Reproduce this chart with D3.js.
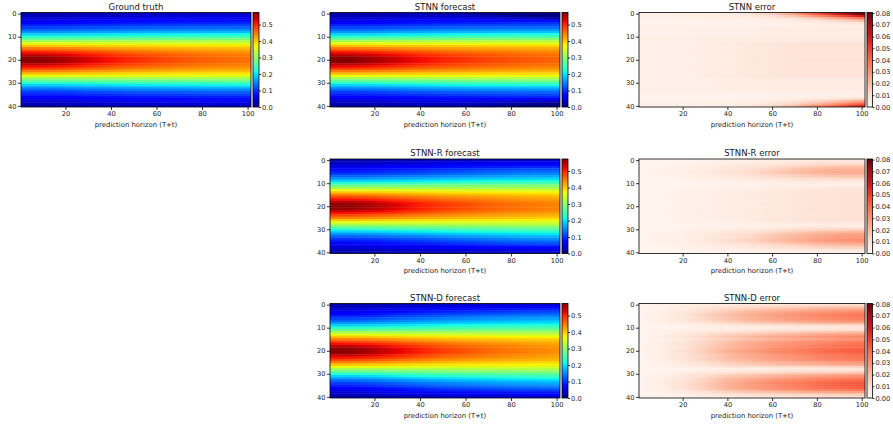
<!DOCTYPE html>
<html>
<head>
<meta charset="utf-8">
<script src="https://cdn.jsdelivr.net/npm/d3@7"></script>
<style>
  body { margin: 0; background: #fff; }
  svg { display: block; }
  text { font-family: "DejaVu Sans", sans-serif; fill: #1a1a1a; }
</style>
</head>
<body>
<svg id="fig" width="893" height="426"></svg>
<script>
// Sampled prediction horizons (columns) and tick labels
const horizons = [1, 10, 20, 30, 40, 50, 60, 70, 80, 90, 100];
const xTicks = [20, 40, 60, 80, 100];
const yTicks = [0, 10, 20, 30, 40];
const fieldTicks = [0, 0.1, 0.2, 0.3, 0.4, 0.5];
const errorTicks = [0, 0.01, 0.02, 0.03, 0.04, 0.05, 0.06, 0.07, 0.08];
const fieldMax = 0.573;
const errorMax = 0.0805;

// Values in thousandths; one row per spatial index 0..40, one entry per sampled horizon
const truth = [
  [20,20,22,25,27,29,30,31,32,33,34],
  [28,28,30,33,36,38,40,41,42,43,44],
  [40,40,43,47,50,53,55,56,57,58,58],
  [53,53,56,61,64,68,70,72,74,75,76],
  [69,69,72,77,80,84,86,88,90,91,92],
  [86,86,89,94,97,101,103,105,107,108,109],
  [103,103,106,111,114,118,120,122,124,125,126],
  [126,126,129,134,137,141,143,145,147,148,149],
  [154,154,157,162,165,169,171,173,175,176,177],
  [189,189,192,197,200,204,206,208,210,211,212],
  [229,229,232,235,237,240,242,243,244,245,246],
  [269,269,272,275,277,280,282,283,284,285,286],
  [315,315,316,317,318,318,319,319,320,320,320],
  [360,360,359,358,357,357,356,356,356,355,355],
  [406,405,402,398,394,391,389,387,385,384,383],
  [446,445,440,433,426,420,416,413,410,408,406],
  [480,479,471,461,452,444,438,433,429,426,423],
  [515,513,503,489,475,464,456,449,443,439,435],
  [543,541,528,511,495,481,471,463,456,451,446],
  [566,564,549,528,509,493,482,471,463,458,452],
  [570,568,552,531,511,495,483,472,464,458,452],
  [566,564,549,528,509,493,482,471,463,458,452],
  [543,541,528,511,495,481,471,463,456,451,446],
  [515,513,503,489,475,464,456,449,443,439,435],
  [480,479,471,461,452,444,438,433,429,426,423],
  [446,445,440,433,426,420,416,413,410,408,406],
  [406,405,402,398,394,391,389,387,385,384,383],
  [360,360,359,358,357,357,356,356,356,355,355],
  [315,315,316,317,318,318,319,319,320,320,320],
  [269,269,272,275,277,280,282,283,284,285,286],
  [229,229,232,235,237,240,242,243,244,245,246],
  [189,189,192,197,200,204,206,208,210,211,212],
  [154,154,157,162,165,169,171,173,175,176,177],
  [126,126,129,134,137,141,143,145,147,148,149],
  [103,103,106,111,114,118,120,122,124,125,126],
  [86,86,89,94,97,101,103,105,107,108,109],
  [69,69,72,77,80,84,86,88,90,91,92],
  [53,53,56,61,64,68,70,72,74,75,76],
  [40,40,43,47,50,53,55,56,57,58,58],
  [28,28,30,33,36,38,40,41,42,43,44],
  [20,20,22,25,27,29,30,31,32,33,34]
];

const stnnForecast = [
  [17,17,19,21,22,21,15,3,-13,-31,-46],
  [26,26,27,30,32,32,30,23,12,-2,-16],
  [38,38,41,44,47,49,49,46,40,31,20],
  [52,52,55,59,62,66,67,67,66,62,56],
  [70,70,73,78,81,86,88,91,94,97,101],
  [88,88,91,96,99,103,105,108,110,112,114],
  [106,106,109,114,117,121,124,126,128,129,130],
  [129,129,132,138,141,145,148,150,152,153,154],
  [156,156,159,165,168,172,175,177,179,180,181],
  [191,191,194,200,203,207,210,212,214,215,216],
  [232,232,235,239,241,244,247,248,249,250,251],
  [272,272,275,279,281,284,287,288,289,290,291],
  [318,318,319,321,322,323,324,325,326,326,326],
  [363,363,362,362,362,363,363,364,364,363,363],
  [409,408,405,402,399,397,396,395,393,392,391],
  [449,448,443,437,431,426,423,421,418,416,414],
  [483,482,474,465,457,450,445,441,437,434,431],
  [518,516,506,493,480,470,463,457,451,447,443],
  [546,544,531,515,500,487,478,471,464,459,454],
  [569,567,552,532,514,499,489,479,471,466,460],
  [573,571,555,535,516,501,490,480,472,466,460],
  [569,567,552,532,514,499,489,479,471,466,460],
  [546,544,531,515,500,487,478,471,464,459,454],
  [518,516,506,493,480,470,463,457,451,447,443],
  [483,482,474,465,457,450,445,441,437,434,431],
  [449,448,443,437,431,426,423,421,418,416,414],
  [409,408,405,402,399,397,396,395,393,392,391],
  [363,363,362,362,362,363,363,364,364,363,363],
  [318,318,319,321,322,323,325,325,326,326,326],
  [272,272,275,278,281,284,287,288,289,290,291],
  [232,232,235,238,241,244,247,248,249,250,251],
  [192,192,195,200,204,208,211,213,215,216,217],
  [157,157,160,165,169,173,176,178,180,181,182],
  [129,129,132,137,141,145,148,150,152,153,154],
  [105,105,108,113,117,121,123,125,127,128,129],
  [88,88,91,96,99,103,106,108,110,111,112],
  [70,70,73,78,81,85,88,90,92,94,96],
  [52,52,55,60,63,66,67,68,68,66,63],
  [38,38,41,45,48,50,50,48,44,39,31],
  [26,26,28,30,33,34,33,29,22,14,4],
  [17,17,19,22,23,23,19,12,2,-9,-21]
];

const stnnRForecast = [
  [21,21,23,27,29,32,34,36,38,39,40],
  [29,29,31,35,39,42,45,47,50,51,52],
  [41,41,45,50,54,59,63,66,69,71,71],
  [54,54,58,65,70,76,81,86,91,94,95],
  [70,71,75,82,87,94,100,106,111,114,115],
  [87,88,92,99,105,112,118,124,129,132,133],
  [104,105,109,116,121,128,134,139,144,147,148],
  [127,127,131,138,143,149,154,159,163,166,167],
  [155,155,159,165,169,175,179,183,186,188,189],
  [190,190,193,199,203,208,211,214,217,218,219],
  [230,230,233,236,239,242,245,246,248,249,250],
  [270,270,273,276,279,282,285,286,287,288,289],
  [314,314,315,315,316,315,315,314,315,314,314],
  [359,359,357,356,354,353,351,350,349,347,347],
  [405,404,400,395,390,386,383,380,377,375,374],
  [445,444,438,430,422,415,410,406,402,399,397],
  [479,478,469,458,448,439,432,426,421,417,414],
  [514,512,501,486,471,459,450,442,435,430,426],
  [542,540,526,508,491,476,465,456,448,442,437],
  [565,563,547,525,505,488,476,464,455,449,443],
  [569,567,550,528,507,490,477,465,456,449,443],
  [565,563,547,525,505,488,476,464,455,449,443],
  [542,540,526,508,491,476,465,456,448,442,437],
  [514,512,501,486,471,459,450,442,435,430,426],
  [479,478,469,458,448,439,432,426,421,417,414],
  [445,444,438,430,422,415,410,406,402,399,397],
  [405,404,400,395,390,386,383,380,377,375,374],
  [359,359,357,356,354,353,351,350,349,348,348],
  [316,316,317,318,320,320,322,322,324,324,324],
  [270,270,273,277,279,283,286,288,290,291,292],
  [230,230,234,238,241,246,250,253,256,258,259],
  [190,190,194,201,206,212,217,222,227,230,232],
  [155,156,160,167,173,180,186,192,197,201,203],
  [127,128,132,140,146,153,160,166,172,176,178],
  [104,105,109,117,123,131,138,144,150,154,156],
  [87,88,92,100,106,114,121,127,133,137,139],
  [70,71,75,82,88,95,101,107,112,116,118],
  [54,54,58,65,70,76,81,86,91,94,96],
  [41,41,45,50,54,59,63,66,69,71,71],
  [29,29,31,35,38,41,44,46,48,49,50],
  [21,21,23,26,29,31,33,34,36,37,38]
];

const stnnDForecast = [
  [21,22,25,29,32,35,37,39,41,43,44],
  [29,29,34,39,45,49,53,55,58,60,62],
  [41,42,48,56,63,69,74,77,80,83,84],
  [54,56,62,72,80,88,93,98,102,105,108],
  [70,72,79,90,98,106,112,117,122,125,128],
  [87,89,96,107,116,124,130,135,140,143,146],
  [104,106,113,124,132,140,146,151,156,159,162],
  [127,129,135,145,153,161,166,171,175,178,181],
  [155,156,162,170,177,184,188,192,196,199,201],
  [190,190,194,201,206,211,215,218,221,222,224],
  [230,230,233,237,240,244,246,248,249,251,252],
  [269,268,271,273,275,278,279,280,280,281,282],
  [315,314,314,314,314,313,313,313,313,312,312],
  [360,359,357,354,351,350,348,347,346,344,344],
  [406,404,399,393,387,383,379,377,373,372,370],
  [446,444,438,429,420,412,407,403,400,396,394],
  [480,478,468,456,445,435,428,421,416,412,409],
  [515,512,500,484,467,454,445,437,430,425,420],
  [543,540,525,505,487,471,459,450,442,436,430],
  [566,563,546,522,501,483,470,457,448,442,435],
  [570,567,548,525,502,484,471,458,449,442,435],
  [566,563,546,522,501,483,470,457,448,442,435],
  [543,540,525,505,487,471,459,450,442,436,430],
  [515,512,500,484,467,454,445,437,430,425,420],
  [480,478,468,456,445,435,428,421,416,412,409],
  [446,444,438,429,420,412,407,403,400,396,394],
  [406,404,400,394,389,385,381,379,376,374,373],
  [360,360,358,356,354,353,352,352,351,350,349],
  [316,316,317,319,322,322,324,325,326,327,327],
  [270,270,274,279,283,287,291,293,295,296,298],
  [230,231,236,243,248,254,258,261,263,266,268],
  [190,191,198,208,216,223,228,233,237,240,243],
  [155,157,164,175,184,192,198,203,208,211,214],
  [127,129,137,148,158,166,173,178,183,187,190],
  [104,107,115,126,136,145,152,157,163,167,170],
  [87,90,98,110,120,129,135,141,147,151,154],
  [70,72,81,92,102,111,117,122,128,132,135],
  [54,56,63,74,83,91,97,102,107,110,113],
  [41,42,48,56,64,70,74,78,81,84,85],
  [29,29,33,39,44,48,52,54,56,58,60],
  [21,21,24,28,32,35,36,38,40,42,43]
];

const stnnError = [
  [3,3,3,4,5,8,15,28,45,64,80],
  [2,2,3,3,4,6,10,18,30,45,60],
  [2,2,2,3,3,4,6,10,17,27,38],
  [1,1,1,2,2,2,3,5,8,13,20],
  [1,1,1,1,1,2,2,3,4,6,9],
  [2,2,2,2,2,2,2,3,3,4,5],
  [3,3,3,3,3,3,4,4,4,4,4],
  [3,3,3,4,4,4,5,5,5,5,5],
  [2,2,2,3,3,3,4,4,4,4,4],
  [2,2,2,3,3,3,4,4,4,4,4],
  [3,3,3,4,4,4,5,5,5,5,5],
  [3,3,3,4,4,4,5,5,5,5,5],
  [3,3,3,4,4,5,5,6,6,6,6],
  [3,3,3,4,5,6,7,8,8,8,8],
  [3,3,3,4,5,6,7,8,8,8,8],
  [3,3,3,4,5,6,7,8,8,8,8],
  [3,3,3,4,5,6,7,8,8,8,8],
  [3,3,3,4,5,6,7,8,8,8,8],
  [3,3,3,4,5,6,7,8,8,8,8],
  [3,3,3,4,5,6,7,8,8,8,8],
  [3,3,3,4,5,6,7,8,8,8,8],
  [3,3,3,4,5,6,7,8,8,8,8],
  [3,3,3,4,5,6,7,8,8,8,8],
  [3,3,3,4,5,6,7,8,8,8,8],
  [3,3,3,4,5,6,7,8,8,8,8],
  [3,3,3,4,5,6,7,8,8,8,8],
  [3,3,3,4,5,6,7,8,8,8,8],
  [3,3,3,4,5,6,7,8,8,8,8],
  [3,3,3,4,4,5,6,6,6,6,6],
  [3,3,3,3,4,4,5,5,5,5,5],
  [3,3,3,3,4,4,5,5,5,5,5],
  [3,3,3,3,4,4,5,5,5,5,5],
  [3,3,3,3,4,4,5,5,5,5,5],
  [3,3,3,3,4,4,5,5,5,5,5],
  [2,2,2,2,3,3,3,3,3,3,3],
  [2,2,2,2,2,2,3,3,3,3,3],
  [1,1,1,1,1,1,2,2,2,3,4],
  [1,1,1,1,1,2,3,4,6,9,13],
  [2,2,2,2,2,3,5,8,13,19,27],
  [2,2,2,3,3,4,7,12,20,29,40],
  [3,3,3,3,4,6,11,19,30,42,55]
];

const stnnRError = [
  [1,1,1,2,2,3,4,5,6,6,6],
  [1,1,1,2,3,4,5,6,8,8,8],
  [1,1,2,3,4,6,8,10,12,13,13],
  [1,1,2,4,6,8,11,14,17,19,19],
  [1,2,3,5,7,10,14,18,21,23,23],
  [1,2,3,5,8,11,15,19,22,24,24],
  [1,2,3,5,7,10,14,17,20,22,22],
  [1,1,2,4,6,8,11,14,16,18,18],
  [1,1,2,3,4,6,8,10,11,12,12],
  [1,1,1,2,3,4,5,6,7,7,7],
  [1,1,1,1,2,2,3,3,4,4,4],
  [1,1,1,1,2,2,3,3,3,3,3],
  [1,1,1,2,2,3,4,5,5,6,6],
  [1,1,2,2,3,4,5,6,7,8,8],
  [1,1,2,3,4,5,6,7,8,9,9],
  [1,1,2,3,4,5,6,7,8,9,9],
  [1,1,2,3,4,5,6,7,8,9,9],
  [1,1,2,3,4,5,6,7,8,9,9],
  [1,1,2,3,4,5,6,7,8,9,9],
  [1,1,2,3,4,5,6,7,8,9,9],
  [1,1,2,3,4,5,6,7,8,9,9],
  [1,1,2,3,4,5,6,7,8,9,9],
  [1,1,2,3,4,5,6,7,8,9,9],
  [1,1,2,3,4,5,6,7,8,9,9],
  [1,1,2,3,4,5,6,7,8,9,9],
  [1,1,2,3,4,5,6,7,8,9,9],
  [1,1,2,3,4,5,6,7,8,9,9],
  [1,1,2,2,3,4,5,6,7,7,7],
  [1,1,1,1,2,2,3,3,4,4,4],
  [1,1,1,2,2,3,4,5,6,6,6],
  [1,1,2,3,4,6,8,10,12,13,13],
  [1,1,2,4,6,8,11,14,17,19,20],
  [1,2,3,5,8,11,15,19,22,25,26],
  [1,2,3,6,9,12,17,21,25,28,29],
  [1,2,3,6,9,13,18,22,26,29,30],
  [1,2,3,6,9,13,18,22,26,29,30],
  [1,2,3,5,8,11,15,19,22,25,26],
  [1,1,2,4,6,8,11,14,17,19,20],
  [1,1,2,3,4,6,8,10,12,13,13],
  [1,1,1,2,2,3,4,5,6,6,6],
  [1,1,1,1,2,2,3,3,4,4,4]
];

const stnnDError = [
  [1,2,3,4,5,6,7,8,9,10,10],
  [1,1,4,6,9,11,13,14,16,17,18],
  [1,2,5,9,13,16,19,21,23,25,26],
  [1,3,6,11,16,20,23,26,28,30,32],
  [1,3,7,13,18,22,26,29,32,34,36],
  [1,3,7,13,19,23,27,30,33,35,37],
  [1,3,7,13,18,22,26,29,32,34,36],
  [1,3,6,11,16,20,23,26,28,30,32],
  [1,2,5,8,12,15,17,19,21,23,24],
  [1,1,2,4,6,7,9,10,11,11,12],
  [1,1,1,2,3,4,4,5,5,6,6],
  [1,2,3,4,5,6,7,8,9,10,10],
  [1,2,4,7,10,12,14,16,18,19,20],
  [1,2,6,10,14,17,20,22,25,27,28],
  [1,3,7,12,17,20,24,26,29,31,33],
  [1,2,6,11,15,19,22,24,26,29,30],
  [1,3,7,13,18,22,26,29,32,34,36],
  [1,3,8,13,19,24,27,30,33,36,38],
  [1,3,8,14,20,25,29,32,35,38,40],
  [1,3,8,15,21,26,30,34,37,40,42],
  [1,3,9,15,22,27,31,34,38,41,43],
  [1,3,8,15,21,26,30,34,37,40,42],
  [1,3,8,14,20,25,29,32,35,38,40],
  [1,3,8,13,19,24,27,30,33,36,38],
  [1,3,7,13,18,22,26,29,32,34,36],
  [1,2,6,11,15,19,22,24,26,29,30],
  [1,2,5,9,13,16,19,21,23,25,26],
  [1,1,3,5,7,9,10,11,12,13,14],
  [1,1,1,2,4,4,5,6,6,7,7],
  [1,1,2,4,6,7,9,10,11,11,12],
  [1,2,4,8,11,14,16,18,19,21,22],
  [1,2,6,11,16,19,22,25,27,29,31],
  [1,3,7,13,19,23,27,30,33,35,37],
  [1,3,8,14,21,25,30,33,36,39,41],
  [1,4,9,15,22,27,32,35,39,42,44],
  [1,4,9,16,23,28,32,36,40,43,45],
  [1,3,9,15,22,27,31,34,38,41,43],
  [1,3,7,13,19,23,27,30,33,35,37],
  [1,2,5,9,14,17,19,22,24,26,27],
  [1,1,3,6,8,10,12,13,14,15,16],
  [1,1,2,3,5,6,6,7,8,9,9]
];

const panelTitles = ["Ground truth", "STNN forecast", "STNN error",
                     "STNN-R forecast", "STNN-R error", "STNN-D forecast", "STNN-D error"];

// ---- colour maps -------------------------------------------------------
const jetR = d3.scaleLinear().domain([0, 0.35, 0.66, 0.89, 1]).range([0, 0, 1, 1, 0.5]).clamp(true);
const jetG = d3.scaleLinear().domain([0, 0.125, 0.375, 0.64, 0.91, 1]).range([0, 0, 1, 1, 0, 0]).clamp(true);
const jetB = d3.scaleLinear().domain([0, 0.11, 0.34, 0.65, 1]).range([0.5, 1, 1, 0, 0]).clamp(true);
const jet = t => d3.rgb(255 * jetR(t), 255 * jetG(t), 255 * jetB(t)).formatHex();
const fieldColor = v => jet(Math.max(0, Math.min(1, v / fieldMax)));

const redsScale = d3.scaleLinear()
  .domain(d3.range(9).map(i => i / 8 * errorMax))
  .range(["#fff5f0", "#fee0d2", "#fcbba1", "#fc9272", "#fb6a4a", "#ef3b2c", "#cb181d", "#a50f15", "#67000d"])
  .interpolate(d3.interpolateRgb)
  .clamp(true);
const errorColor = v => redsScale(v);

// ---- layout ------------------------------------------------------------
const svg = d3.select("#fig");
const defs = svg.append("defs");
const colLeft = [21, 330, 639];
const colWidth = [230, 230, 226];
const rowTop = [12.5, 159, 303.5];
const plotH = 94.5;

const panels = [
  { title: panelTitles[0], data: truth,         kind: "field", col: 0, row: 0 },
  { title: panelTitles[1], data: stnnForecast,  kind: "field", col: 1, row: 0 },
  { title: panelTitles[2], data: stnnError,     kind: "error", col: 2, row: 0 },
  { title: panelTitles[3], data: stnnRForecast, kind: "field", col: 1, row: 1 },
  { title: panelTitles[4], data: stnnRError,    kind: "error", col: 2, row: 1 },
  { title: panelTitles[5], data: stnnDForecast, kind: "field", col: 1, row: 2 },
  { title: panelTitles[6], data: stnnDError,    kind: "error", col: 2, row: 2 }
];

const tickFont = "6.7px";

panels.forEach((p, pi) => {
  const L = colLeft[p.col], W = colWidth[p.col], T = rowTop[p.row], H = plotH;
  const x = d3.scaleLinear().domain([0.5, 101.5]).range([L, L + W]);
  const y = d3.scaleLinear().domain([-0.5, 40.5]).range([T, T + H]);
  const color = p.kind === "field" ? fieldColor : errorColor;
  const g = svg.append("g");

  // one gradient per spatial row, stops at each sampled horizon
  p.data.forEach((rowVals, r) => {
    const grad = defs.append("linearGradient")
      .attr("id", `p${pi}r${r}`)
      .attr("x1", 0).attr("x2", 1).attr("y1", 0).attr("y2", 0);
    grad.selectAll("stop").data(rowVals).join("stop")
      .attr("offset", (v, i) => (x(horizons[i]) - L) / W)
      .attr("stop-color", v => color(v / 1000));
  });

  g.selectAll("rect.cellrow").data(p.data).join("rect")
    .attr("class", "cellrow")
    .attr("x", x(0.5))
    .attr("width", x(101.5) - x(0.5))
    .attr("y", (d, r) => y(r - 0.5))
    .attr("height", (d, r) => y(r + 0.5) - y(r - 0.5) + (r < 40 ? 0.4 : 0))
    .attr("fill", (d, r) => `url(#p${pi}r${r})`);

  g.append("rect")
    .attr("x", L).attr("y", T).attr("width", W).attr("height", H)
    .attr("fill", "none").attr("stroke", "#000").attr("stroke-width", 0.8);

  const xAxis = g.append("g").attr("transform", `translate(0,${T + H})`)
    .call(d3.axisBottom(x).tickValues(xTicks).tickSize(3).tickPadding(1.5));
  const yAxis = g.append("g").attr("transform", `translate(${L},0)`)
    .call(d3.axisLeft(y).tickValues(yTicks).tickSize(3).tickPadding(1.5));
  [xAxis, yAxis].forEach(a => {
    a.select(".domain").remove();
    a.selectAll("line").attr("stroke", "#000").attr("stroke-width", 0.8);
    a.selectAll("text").style("font-size", tickFont).style("font-family", "DejaVu Sans").attr("fill", "#1a1a1a");
  });

  g.append("text")
    .attr("x", L + W / 2).attr("y", T - 3)
    .attr("text-anchor", "middle")
    .style("font-size", "8.5px")
    .text(p.title);

  g.append("text")
    .attr("x", L + W / 2).attr("y", T + H + 19.5)
    .attr("text-anchor", "middle")
    .style("font-size", "6.9px")
    .text("prediction horizon (T+t)");

  // colour bar
  const cbX = L + W + 2, cbW = p.kind === "field" ? 6 : 5.4;
  const vmax = p.kind === "field" ? fieldMax : errorMax;
  const cScale = d3.scaleLinear().domain([0, vmax]).range([T + H, T]);
  const cg = defs.append("linearGradient")
    .attr("id", `cb${pi}`)
    .attr("x1", 0).attr("x2", 0).attr("y1", 1).attr("y2", 0);
  cg.selectAll("stop").data(d3.range(0, 1.0001, 0.02)).join("stop")
    .attr("offset", s => s)
    .attr("stop-color", s => p.kind === "field" ? jet(s) : redsScale(s * errorMax));
  g.append("rect")
    .attr("x", cbX).attr("y", T).attr("width", cbW).attr("height", H)
    .attr("fill", `url(#cb${pi})`)
    .attr("stroke", "#000").attr("stroke-width", 0.8);
  const cAxis = g.append("g").attr("transform", `translate(${cbX + cbW},0)`)
    .call(d3.axisRight(cScale)
      .tickValues(p.kind === "field" ? fieldTicks : errorTicks)
      .tickFormat(d3.format(p.kind === "field" ? ".1f" : ".2f"))
      .tickSize(2).tickPadding(1));
  cAxis.select(".domain").remove();
  cAxis.selectAll("line").attr("stroke", "#000").attr("stroke-width", 0.8);
  cAxis.selectAll("text").style("font-size", tickFont).style("font-family", "DejaVu Sans").attr("fill", "#1a1a1a");
});
</script>
</body>
</html>
